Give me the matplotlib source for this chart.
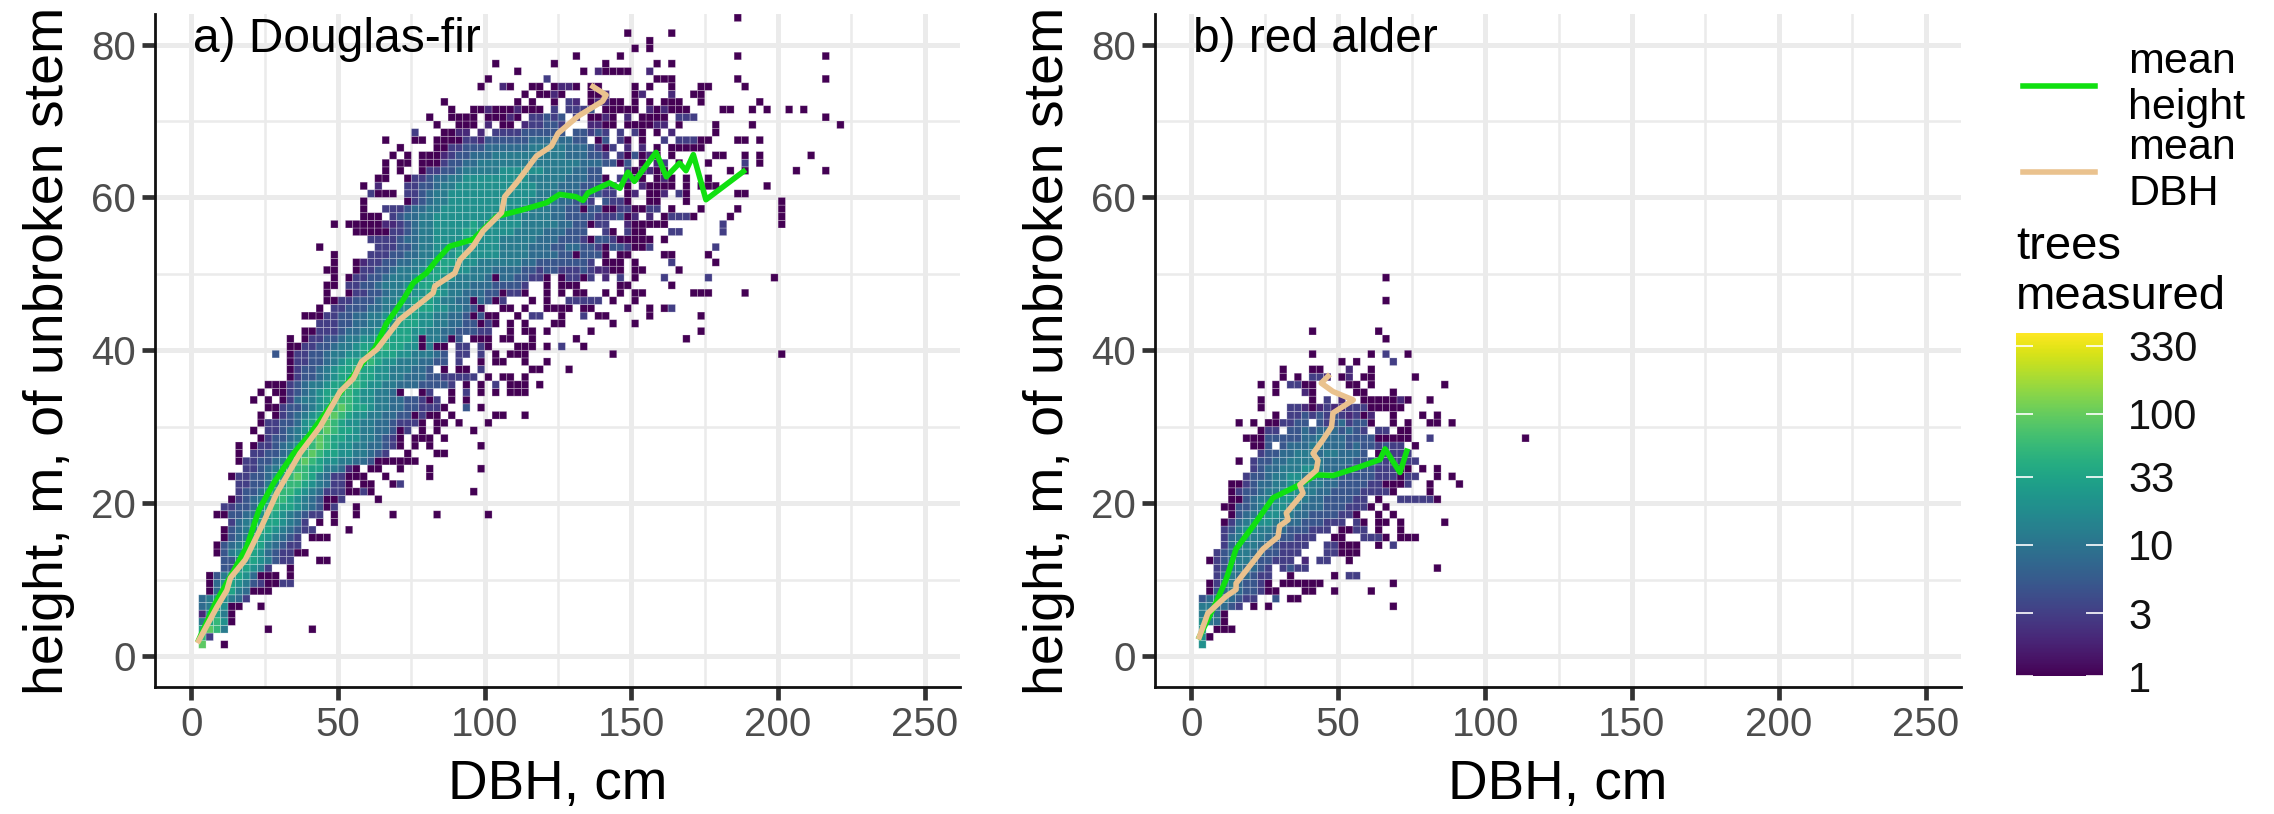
import numpy as np
import matplotlib
matplotlib.use("Agg")
import matplotlib.pyplot as plt
from matplotlib.colors import LogNorm
from matplotlib.lines import Line2D
from matplotlib.ticker import MultipleLocator

plt.rcParams["font.family"] = ["Liberation Sans", "DejaVu Sans"]

# hexbin-like counts as (height row, DBH column, levels)
# one column is 2.5 cm, one row is 1 m, a blank in the string is an empty cell
level_counts = {"1": 1, "2": 2, "3": 3, "4": 5, "5": 8, "6": 12, "7": 20,
                "8": 33, "9": 55, "a": 90, "b": 150}

fir_cells = [
    (83, 74, "1"), (81, 59, "1"), (81, 65, "1"), (80, 62, "1"), (79, 60, "1"), (79, 62, "1"),
    (78, 52, "1"), (78, 58, "1"), (78, 74, "1"), (78, 86, "1"),
    (77, 41, "1"), (77, 49, "1"), (77, 56, "1"), (77, 63, "1"), (77, 65, "1"),
    (76, 44, "1"), (76, 53, "1"), (76, 55, "21111"), (76, 62, "2"),
    (75, 40, "1"), (75, 48, "3"), (75, 63, "111"), (75, 74, "1"), (75, 86, "1"),
    (74, 39, "1"), (74, 42, "21"), (74, 46, "11"), (74, 49, "1221"), (74, 54, "11"), (74, 60, "1"),
    (74, 62, "1"), (74, 65, "1"), (74, 69, "11"), (74, 75, "1"),
    (73, 45, "1"), (73, 47, "1121"), (73, 54, "112"), (73, 60, "12"), (73, 65, "2"), (73, 68, "11"),
    (72, 34, "1"), (72, 44, "1"), (72, 46, "1"), (72, 49, "1"), (72, 51, "32"), (72, 54, "12211"),
    (72, 60, "1"), (72, 62, "1"), (72, 64, "111"), (72, 69, "1"), (72, 77, "1"),
    (71, 35, "1"), (71, 38, "112111"), (71, 44, "2111"), (71, 49, "3"), (71, 51, "3334"), (71, 56, "1111"),
    (71, 60, "1"), (71, 62, "21"), (71, 64, "2111"), (71, 72, "11"), (71, 76, "1"), (71, 78, "1"),
    (71, 81, "1"), (71, 83, "1"),
    (70, 32, "1"), (70, 35, "1"), (70, 36, "111"), (70, 40, "11121"), (70, 46, "33434"), (70, 52, "3"),
    (70, 54, "1121"), (70, 59, "2 1"), (70, 62, "11"), (70, 64, "1 1"), (70, 66, "333"), (70, 86, "1"),
    (69, 33, "1"), (69, 36, "11"), (69, 38, "1"), (69, 40, "2 1"), (69, 43, "1"), (69, 45, "233443"),
    (69, 54, "2211 1"), (69, 60, "11"), (69, 62, "1"), (69, 63, "22"), (69, 66, "1"), (69, 71, "1"),
    (69, 76, "1"), (69, 88, "1"),
    (68, 30, "3"), (68, 34, "1122"), (68, 39, "2"), (68, 41, "33334"), (68, 46, "444"), (68, 49, "44"),
    (68, 52, "44"), (68, 54, "343 3"), (68, 60, "31"), (68, 63, "1 2"), (68, 71, "1"),
    (67, 26, "1"), (67, 30, "11"), (67, 33, "1111332"), (67, 40, "444444"), (67, 46, "555"), (67, 49, "555"),
    (67, 52, "44"), (67, 55, "1"), (67, 56, "4 3"), (67, 59, "1"), (67, 61, "1"), (67, 64, "3"),
    (67, 66, "33311"), (67, 74, "11"), (67, 77, "1"),
    (66, 28, "1"), (66, 33, "113344"), (66, 39, "4555555"), (66, 46, "66666"), (66, 51, "5554"), (66, 55, "3"),
    (66, 56, "1"), (66, 57, "3"), (66, 59, "2"), (66, 61, "2"), (66, 63, "1"), (66, 65, "11111"),
    (65, 27, "1"), (65, 29, "1"), (65, 31, "111"), (65, 34, "234455566666666"), (65, 49, "6655544"),
    (65, 56, "3 31"), (65, 60, "41"), (65, 62, "21"), (65, 65, "1"), (65, 71, "11"), (65, 75, "1"),
    (65, 77, "1"), (65, 84, "1"),
    (64, 26, "1"), (64, 28, "11"), (64, 31, "111"), (64, 34, "3445566666666666"), (64, 50, "66655544"),
    (64, 58, "1"), (64, 59, "4 1 2"), (64, 64, "3 1"), (64, 70, "1"), (64, 75, "3"), (64, 77, "1"),
    (63, 26, "1"), (63, 28, "1"), (63, 31, "1"), (63, 32, "334456666677777"), (63, 47, "7666655"),
    (63, 54, "44"), (63, 59, "31"), (63, 61, "22"), (63, 63, "11"), (63, 73, "1"), (63, 75, "1"),
    (63, 82, "1"), (63, 86, "1"),
    (62, 25, "11"), (62, 29, "1"), (62, 30, "3345566777777"), (62, 43, "77766666"), (62, 51, "55544"),
    (62, 56, "1"), (62, 58, "33"), (62, 60, "2"), (62, 61, "1 1"), (62, 64, "21"), (62, 67, "1"), (62, 70, "1"),
    (61, 23, "1"), (61, 25, "2"), (61, 29, "33"), (61, 31, "4456677777777"), (61, 44, "7776665554"),
    (61, 54, "44"), (61, 56, "33"), (61, 59, "1"), (61, 61, "21"), (61, 63, "111"), (61, 67, "1"),
    (61, 69, "111"), (61, 78, "1"),
    (60, 24, "311"), (60, 27, "1"), (60, 29, "3345667777777"), (60, 42, "7777766665544"), (60, 55, "4"),
    (60, 56, "33 1"), (60, 60, "2"), (60, 62, "1"), (60, 63, "12"), (60, 66, "3"), (60, 67, "1"), (60, 74, "11"),
    (59, 23, "1"), (59, 29, "1"), (59, 30, "34566777777"), (59, 41, "77777666655"), (59, 52, "44"), (59, 54, "3"),
    (59, 56, "4"), (59, 57, "33"), (59, 59, "1"), (59, 62, "11"), (59, 67, "1"), (59, 80, "1"),
    (58, 23, "1"), (58, 26, "3"), (58, 27, "334556677777"), (58, 39, "7777776666554"), (58, 52, "4"), (58, 53, "1"),
    (58, 54, "44"), (58, 56, "11"), (58, 58, "33"), (58, 60, "11"), (58, 62, "33"), (58, 65, "1"), (58, 69, "1"),
    (58, 74, "1"), (58, 80, "1"),
    (57, 23, "111"), (57, 27, "34556677777"), (57, 38, "7777777666655"), (57, 51, "444"), (57, 54, "43"),
    (57, 56, "334"), (57, 59, "12"), (57, 62, "2"), (57, 64, "13331"), (57, 73, "1"), (57, 80, "1"),
    (56, 19, "1"), (56, 21, "111"), (56, 24, "1122"), (56, 28, "3456677777"), (56, 38, "87777776666"),
    (56, 49, "65544"), (56, 54, "1"), (56, 55, "33"), (56, 59, "211111"), (56, 72, "3"), (56, 80, "1"),
    (55, 22, "11111"), (55, 27, "33"), (55, 29, "4566777788"), (55, 39, "87777666"), (55, 47, "65554"),
    (55, 52, "44"), (55, 56, "3"), (55, 57, "1"), (55, 59, "3"), (55, 60, "11"), (55, 65, "33"), (55, 72, "3"),
    (54, 24, "3333"), (54, 28, "4556677778"), (54, 38, "87776666"), (54, 46, "65554"), (54, 51, "44"),
    (54, 53, "3"), (54, 54, "1"), (54, 55, "44"), (54, 57, "3"), (54, 58, "111"), (54, 61, "11"), (54, 64, "1"),
    (53, 17, "1"), (53, 25, "333"), (53, 28, "44566777"), (53, 36, "877777666"), (53, 45, "6555"), (53, 49, "44"),
    (53, 51, "55"), (53, 53, "44"), (53, 55, "3"), (53, 56, "1"), (53, 57, "44"), (53, 59, "3"), (53, 60, "113"),
    (53, 71, "3"),
    (52, 19, "1"), (52, 24, "333"), (52, 27, "4455667"), (52, 34, "77887777"), (52, 42, "6666"), (52, 46, "5555"),
    (52, 50, "44"), (52, 52, "1"), (52, 53, "444"), (52, 56, "1"), (52, 58, "11"), (52, 64, "11"), (52, 70, "1"),
    (51, 19, "1"), (51, 22, "1233"), (51, 26, "445566"), (51, 32, "77887776"), (51, 40, "66666"), (51, 45, "5544"),
    (51, 49, "444"), (51, 52, "44"), (51, 54, "3"), (51, 56, "11"), (51, 58, "1"), (51, 60, "1"), (51, 65, "3"),
    (51, 71, "1"),
    (50, 18, "11"), (50, 22, "13"), (50, 24, "34456"), (50, 29, "6677887"), (50, 36, "77666"), (50, 41, "5555"),
    (50, 45, "44"), (50, 47, "3443"), (50, 51, "33"), (50, 53, "43"), (50, 55, "22"), (50, 57, "11"), (50, 60, "11"),
    (50, 66, "1"),
    (49, 19, "1"), (49, 21, "13"), (49, 23, "344566"), (49, 29, "6778877"), (49, 36, "66665"), (49, 41, "1"),
    (49, 42, "55"), (49, 44, "44"), (49, 46, "33"), (49, 48, "1"), (49, 50, "1"), (49, 51, "33"), (49, 53, "1"),
    (49, 54, "3 2"), (49, 58, "3"), (49, 60, "1"), (49, 64, "3"), (49, 70, "3"), (49, 79, "1"),
    (48, 18, "11"), (48, 21, "33"), (48, 23, "44566"), (48, 28, "6778877"), (48, 35, "66655"), (48, 40, "544"),
    (48, 43, "44"), (48, 45, "3"), (48, 48, "1"), (48, 50, "111"), (48, 52, "1"), (48, 58, "11"), (48, 65, "1"),
    (47, 18, "1"), (47, 21, "133"), (47, 24, "44566"), (47, 29, "67788"), (47, 34, "7665"), (47, 38, "554"),
    (47, 41, "4"), (47, 42, "1"), (47, 43, "33"), (47, 45, "1"), (47, 48, "1"), (47, 50, "1"), (47, 52, "11"),
    (47, 56, "1"), (47, 58, "1"), (47, 60, "11"), (47, 68, "111"), (47, 75, "1"),
    (46, 18, "11"), (46, 20, "334"), (46, 23, "4456"), (46, 27, "67788"), (46, 32, "8766"), (46, 36, "55"),
    (46, 38, "1"), (46, 39, "54"), (46, 41, "1"), (46, 42, "3"), (46, 46, "1"), (46, 48, "1"), (46, 51, "33"),
    (46, 53, "3"), (46, 54, "33"), (46, 57, "1"), (46, 60, "1"),
    (45, 17, "1"), (45, 19, "3344"), (45, 23, "4556"), (45, 27, "6778"), (45, 31, "8877"), (45, 35, "665"),
    (45, 38, "4"), (45, 39, "1"), (45, 42, "11"), (45, 45, "1"), (45, 48, "111"), (45, 51, "1"), (45, 53, "11"),
    (45, 59, "1"), (45, 62, "1"), (45, 64, "13"),
    (44, 15, "111"), (44, 18, "334"), (44, 21, "4556"), (44, 25, "6778"), (44, 29, "8877"), (44, 33, "665"),
    (44, 36, "54"), (44, 38, "1"), (44, 39, "4"), (44, 40, "11"), (44, 44, "1"), (44, 46, "33"), (44, 50, "1"),
    (44, 53, "3"), (44, 55, "11"), (44, 62, "1"), (44, 69, "1"),
    (43, 17, "3"), (43, 18, "3344"), (43, 22, "5566"), (43, 26, "7788"), (43, 30, "8776"), (43, 34, "65"),
    (43, 36, "544"), (43, 39, "1"), (43, 40, "3"), (43, 41, "1"), (43, 43, "1"), (43, 45, "1"), (43, 49, "11"),
    (43, 57, "1"), (43, 60, "1"),
    (42, 15, "11"), (42, 17, "333"), (42, 20, "4556"), (42, 24, "6788"), (42, 28, "8877"), (42, 32, "665"),
    (42, 35, "54"), (42, 37, "44"), (42, 39, "33"), (42, 43, "1"), (42, 45, "11"), (42, 48, "1"), (42, 54, "1"),
    (42, 69, "1"),
    (41, 13, "1"), (41, 15, "1"), (41, 16, "3344"), (41, 20, "5667"), (41, 24, "7888"), (41, 28, "887"),
    (41, 31, "1"), (41, 32, "66"), (41, 34, "5"), (41, 35, "1"), (41, 36, "4"), (41, 38, "111"), (41, 42, "11"),
    (41, 46, "1"), (41, 52, "1"), (41, 67, "1"),
    (40, 13, "11"), (40, 15, "33"), (40, 17, "445"), (40, 20, "6678"), (40, 24, "8898"), (40, 28, "877"),
    (40, 31, "1"), (40, 32, "6"), (40, 33, "11"), (40, 36, "33"), (40, 39, "3"), (40, 40, "1"), (40, 44, "111"),
    (40, 48, "1"), (40, 50, "3"), (40, 53, "1"),
    (39, 11, "4"), (39, 13, "1"), (39, 14, "3344"), (39, 18, "5667"), (39, 22, "7888"), (39, 26, "8877"),
    (39, 30, "666"), (39, 33, "54"), (39, 36, "33"), (39, 39, "3"), (39, 41, "1"), (39, 43, "111"), (39, 57, "1"),
    (39, 80, "1"),
    (38, 13, "1"), (38, 14, "3344"), (38, 18, "5678"), (38, 22, "8898"), (38, 26, "7766"), (38, 30, "65"),
    (38, 32, "5"), (38, 33, "44"), (38, 36, "3"), (38, 39, "1"), (38, 41, "11"), (38, 45, "1"), (38, 48, "1"),
    (37, 13, "1"), (37, 14, "3445"), (37, 18, "6788"), (37, 22, "9887"), (37, 26, "7666"), (37, 30, "55"),
    (37, 32, "4"), (37, 34, "1"), (37, 36, "11"), (37, 39, "3"), (37, 46, "11"), (37, 51, "1"),
    (36, 13, "1"), (36, 14, "3445"), (36, 18, "6788"), (36, 22, "9887"), (36, 26, "7665"), (36, 30, "55"),
    (36, 32, "44"), (36, 34, "33"), (36, 36, "33"), (36, 38, "3"), (36, 40, "1"), (36, 42, "11"), (36, 45, "1"),
    (35, 10, "111"), (35, 13, "3"), (35, 14, "4566"), (35, 18, "7889"), (35, 22, "9877"), (35, 26, "6655"),
    (35, 30, "544"), (35, 33, "44"), (35, 35, "3"), (35, 37, "1"), (35, 39, "1"), (35, 41, "3"), (35, 43, "11"),
    (35, 45, "1"), (35, 47, "1"),
    (34, 9, "1"), (34, 11, "1"), (34, 12, "13"), (34, 14, "4567"), (34, 18, "8899"), (34, 22, "8776"), (34, 26, "65"),
    (34, 28, "1"), (34, 31, "1"), (34, 32, "3"), (34, 35, "1"), (34, 37, "3"), (34, 39, "1"), (34, 41, "1"),
    (34, 43, "11"), (34, 45, "1"),
    (33, 8, "1"), (33, 10, "1"), (33, 12, "13"), (33, 14, "5667"), (33, 18, "8999"), (33, 22, "8776"), (33, 26, "655"),
    (33, 29, "4"), (33, 30, "4"), (33, 31, "3"), (33, 32, "13"), (33, 35, "1"), (33, 37, "1"),
    (32, 10, "11"), (32, 12, "3445"), (32, 16, "678"), (32, 19, "9a98"), (32, 23, "8766"), (32, 27, "5544"),
    (32, 31, "33"), (32, 33, "3"), (32, 34, "1"), (32, 37, "4"), (32, 39, "1"),
    (31, 9, "1"), (31, 11, "1"), (31, 12, "3456"), (31, 16, "78"), (31, 18, "9a9"), (31, 21, "87"), (31, 23, "76"),
    (31, 25, "65"), (31, 27, "544"), (31, 30, "1"), (31, 31, "31"), (31, 33, "1"), (31, 35, "1"), (31, 41, "11"),
    (31, 45, "1"),
    (30, 9, "1"), (30, 10, "3"), (30, 11, "3445"), (30, 15, "789"), (30, 18, "a98"), (30, 21, "77"), (30, 23, "66"),
    (30, 25, "55"), (30, 27, "4"), (30, 28, "3"), (30, 29, "33"), (30, 31, "1 1"), (30, 34, "1"), (30, 36, "1"),
    (30, 40, "1"),
    (29, 8, "1"), (29, 10, "33"), (29, 12, "456"), (29, 15, "789"), (29, 18, "a98"), (29, 21, "876"), (29, 24, "6554"),
    (29, 28, "1"), (29, 29, "3"), (29, 31, "1"), (29, 33, "1"), (29, 38, "1"),
    (28, 9, "1"), (28, 10, "344"), (28, 13, "567"), (28, 16, "9a9"), (28, 19, "887"), (28, 22, "766"), (28, 25, "54"),
    (28, 27, "3"), (28, 28, "1"), (28, 30, "11"), (28, 32, "1"), (28, 34, "1"),
    (27, 6, "1"), (27, 8, "1"), (27, 9, "33"), (27, 11, "456"), (27, 14, "789"), (27, 17, "a98"), (27, 20, "776"),
    (27, 23, "65"), (27, 25, "54"), (27, 27, "3"), (27, 28, "1"), (27, 30, "1"), (27, 32, "1"), (27, 39, "1"),
    (26, 6, "1"), (26, 8, "3"), (26, 9, "344"), (26, 12, "567"), (26, 15, "9a9"), (26, 18, "887"), (26, 21, "76"),
    (26, 23, "65"), (26, 25, "4"), (26, 26, "3"), (26, 29, "1"), (26, 33, "11"),
    (25, 6, "1"), (25, 7, "33"), (25, 9, "445"), (25, 12, "689"), (25, 15, "a98"), (25, 18, "776"), (25, 21, "65"),
    (25, 23, "54"), (25, 25, "111111"),
    (24, 7, "33"), (24, 9, "456"), (24, 12, "789"), (24, 15, "988"), (24, 18, "66"), (24, 20, "5"), (24, 21, "21"),
    (24, 24, "1"), (24, 25, "1"), (24, 28, "1"), (24, 32, "1"), (24, 39, "1"),
    (23, 5, "1"), (23, 6, "33"), (23, 8, "445"), (23, 11, "789"), (23, 14, "a98"), (23, 17, "65"), (23, 19, "33"),
    (23, 21, "111"), (23, 26, "1"), (23, 32, "1"),
    (22, 6, "3"), (22, 7, "344"), (22, 10, "678"), (22, 13, "998"), (22, 16, "765"), (22, 19, "33"), (22, 21, "1"),
    (22, 23, "11"), (22, 27, "13"),
    (21, 6, "3"), (21, 7, "445"), (21, 10, "789"), (21, 13, "987"), (21, 16, "65"), (21, 18, "33"), (21, 20, "3"),
    (21, 21, "11"), (21, 23, "31"), (21, 38, "1"),
    (20, 5, "1"), (20, 6, "3"), (20, 7, "456"), (20, 10, "899"), (20, 13, "876"), (20, 16, "54"), (20, 18, "1"),
    (20, 19, "13"), (20, 25, "1"),
    (19, 4, "33"), (19, 6, "445"), (19, 9, "789"), (19, 12, "887"), (19, 15, "65"), (19, 17, "4"), (19, 18, "1"),
    (19, 19, "3"), (19, 22, "1"),
    (18, 3, "1"), (18, 4, "1"), (18, 5, "44"), (18, 7, "567"), (18, 10, "887"), (18, 13, "654"), (18, 16, "33"),
    (18, 19, "1"), (18, 22, "1"), (18, 27, "1"), (18, 33, "1"), (18, 40, "1"),
    (17, 5, "3"), (17, 6, "567"), (17, 9, "888"), (17, 12, "765"), (17, 15, "3"), (17, 17, "1"), (17, 19, "1"),
    (16, 4, "1"), (16, 5, "45"), (16, 7, "678"), (16, 10, "876"), (16, 13, "54"), (16, 15, "33"), (16, 21, "1"),
    (15, 4, "1"), (15, 5, "45"), (15, 7, "678"), (15, 10, "765"), (15, 13, "4"), (15, 14, "3"), (15, 16, "111"),
    (14, 3, "1"), (14, 4, "4"), (14, 5, "56"), (14, 7, "788"), (14, 10, "654"), (14, 13, "33"),
    (13, 3, "1"), (13, 4, "4"), (13, 5, "67"), (13, 7, "887"), (13, 10, "54"), (13, 12, "33"), (13, 14, "1"), (13, 15, "1"),
    (12, 4, "44"), (12, 6, "678"), (12, 9, "76"), (12, 11, "43"), (12, 13, "3"), (12, 17, "11"),
    (11, 4, "44"), (11, 6, "78"), (11, 8, "76"), (11, 10, "3"), (11, 13, "1"),
    (10, 2, "1"), (10, 3, "4"), (10, 4, "67"), (10, 6, "87"), (10, 8, "5"), (10, 9, "111"), (10, 13, "1"),
    (9, 2, "1"), (9, 3, "5"), (9, 4, "78"), (9, 6, "76"), (9, 8, "43"), (9, 10, "11"), (9, 12, "33"),
    (8, 2, "1"), (8, 3, "5"), (8, 4, "78"), (8, 6, "65"), (8, 8, "111"),
    (7, 1, "5"), (7, 2, "6"), (7, 3, "77"), (7, 5, "65"), (7, 7, "3"),
    (6, 1, "5"), (6, 2, "67"), (6, 4, "7"), (6, 5, "1"), (6, 6, "1"), (6, 9, "1"),
    (5, 1, "2"), (5, 2, "78"), (5, 4, "6"), (5, 5, "1"),
    (4, 1, "6"), (4, 2, "89"), (4, 4, "7"), (4, 5, "1"),
    (3, 1, "8"), (3, 2, "a9"), (3, 4, "6"), (3, 10, "1"), (3, 16, "1"),
    (2, 1, "9"), (2, 2, "3"),
    (1, 1, "a"), (1, 4, "1"),
]

alder_cells = [
    (49, 26, "1"), (46, 26, "1"), (42, 16, "1"), (42, 25, "1"), (41, 26, "1"),
    (39, 16, "1"), (39, 24, "1"), (39, 26, "3"), (39, 29, "1"), (38, 20, "1"), (38, 22, "1"), (38, 27, "3"),
    (37, 12, "1"), (37, 16, "11"), (37, 21, "2"), (37, 24, "1"),
    (36, 12, "1"), (36, 14, "1"), (36, 16, "332"), (36, 20, "12"), (36, 23, "11"), (36, 30, "1"),
    (35, 9, "1"), (35, 11, "1"), (35, 13, "3311"), (35, 21, "11"), (35, 24, "1"), (35, 34, "1"),
    (34, 11, "1"), (34, 15, "21"), (34, 22, "11"), (34, 27, "1"),
    (33, 9, "1"), (33, 16, "1"), (33, 18, "3"), (33, 20, "2"), (33, 23, "11"), (33, 25, "11121"), (33, 32, "1"),
    (32, 9, "1"), (32, 13, "33212322"), (32, 21, "3331"), (32, 25, "1111"),
    (31, 11, "1"), (31, 13, "3343434"), (31, 20, "32312"), (31, 27, "1"), (31, 31, "1"), (31, 33, "1"),
    (30, 6, "1"), (30, 8, "1"), (30, 10, "113344"), (30, 17, "4"), (30, 18, "345"), (30, 21, "344"), (30, 24, "1"),
    (30, 27, "1"), (30, 29, "1"), (30, 32, "11"), (30, 35, "1"),
    (29, 9, "1"), (29, 10, "33"), (29, 13, "44545"), (29, 18, "55"), (29, 20, "4543"), (29, 25, "33"), (29, 28, "1"),
    (29, 29, "1"),
    (28, 7, "111"), (28, 10, "44"), (28, 12, "444556"), (28, 18, "5"), (28, 19, "5544"), (28, 23, "44"),
    (28, 25, "11111"), (28, 32, "3"), (28, 45, "1"),
    (27, 8, "1"), (27, 9, "1"), (27, 10, "4"), (27, 12, "4"), (27, 13, "55566"), (27, 18, "555"), (27, 21, "4544"),
    (27, 25, "3433"), (27, 30, "1"),
    (26, 9, "3"), (26, 10, "44"), (26, 12, "55666"), (26, 17, "5665"), (26, 21, "554"), (26, 25, "1"), (26, 26, "3"),
    (26, 27, "3"), (26, 28, "33"),
    (25, 6, "1"), (25, 8, "3"), (25, 9, "44"), (25, 11, "5566"), (25, 15, "6665"), (25, 19, "555"), (25, 22, "44"),
    (25, 24, "44"), (25, 26, "33"), (25, 28, "3"), (25, 29, "33"),
    (24, 8, "3"), (24, 9, "4"), (24, 10, "556"), (24, 13, "6677"), (24, 17, "655"), (24, 20, "54"), (24, 22, "444"),
    (24, 25, "33"), (24, 27, "3"), (24, 28, "1"), (24, 29, "1"), (24, 31, "1"), (24, 33, "1"),
    (23, 7, "3"), (23, 8, "44"), (23, 10, "5667"), (23, 14, "7666"), (23, 18, "554"), (23, 21, "44"), (23, 23, "44"),
    (23, 25, "3"), (23, 26, "33"), (23, 28, "1"), (23, 29, "33"), (23, 33, "1"), (23, 35, "1"),
    (22, 5, "11"), (22, 7, "34"), (22, 9, "556"), (22, 12, "6777"), (22, 16, "665"), (22, 19, "54"), (22, 21, "444"),
    (22, 24, "33"), (22, 26, "1"), (22, 27, "11"), (22, 29, "3"), (22, 32, "1"), (22, 36, "1"),
    (21, 5, "13"), (21, 7, "44"), (21, 9, "566"), (21, 12, "7776"), (21, 16, "65"), (21, 18, "544"), (21, 21, "44"),
    (21, 23, "33"), (21, 25, "3"), (21, 26, "31"), (21, 32, "1"),
    (20, 5, "1"), (20, 6, "1"), (20, 7, "45"), (20, 9, "667"), (20, 12, "776"), (20, 15, "655"), (20, 18, "44"),
    (20, 20, "44"), (20, 22, "33"), (20, 25, "1"), (20, 28, "333331"),
    (19, 4, "1"), (19, 5, "1"), (19, 6, "44"), (19, 8, "566"), (19, 11, "776"), (19, 14, "65"), (19, 16, "554"),
    (19, 19, "44"), (19, 21, "33"), (19, 23, "3"), (19, 24, "1"), (19, 26, "1"),
    (18, 5, "1"), (18, 6, "45"), (18, 8, "667"), (18, 11, "76"), (18, 13, "655"), (18, 16, "44"), (18, 18, "44"),
    (18, 20, "33"), (18, 22, "1"), (18, 25, "1"), (18, 27, "1"),
    (17, 4, "1"), (17, 5, "3"), (17, 6, "56"), (17, 8, "77"), (17, 10, "76"), (17, 12, "65"), (17, 14, "54"),
    (17, 16, "44"), (17, 18, "33"), (17, 20, "3"), (17, 22, "3"), (17, 23, "1"), (17, 25, "11"), (17, 28, "1"), (17, 34, "1"),
    (16, 4, "3"), (16, 5, "4"), (16, 6, "67"), (16, 8, "76"), (16, 10, "65"), (16, 12, "54"), (16, 14, "44"),
    (16, 16, "33"), (16, 18, "3"), (16, 20, "11"), (16, 22, "33"), (16, 25, "1"), (16, 28, "1"),
    (15, 4, "3"), (15, 5, "5"), (15, 6, "67"), (15, 8, "66"), (15, 10, "55"), (15, 12, "44"), (15, 14, "33"),
    (15, 16, "3"), (15, 19, "11"), (15, 23, "3"), (15, 24, "33"), (15, 26, "1"), (15, 28, "111"),
    (14, 4, "3"), (14, 5, "5"), (14, 6, "66"), (14, 8, "65"), (14, 10, "54"), (14, 12, "33"), (14, 14, "3"), (14, 15, "3"),
    (14, 18, "3"), (14, 19, "3"), (14, 20, "111"), (14, 25, "1"), (14, 27, "3"),
    (13, 3, "3"), (13, 4, "45"), (13, 6, "66"), (13, 8, "55"), (13, 10, "44"), (13, 12, "33"), (13, 14, "3"),
    (13, 18, "33"), (13, 20, "1"), (13, 21, "11"),
    (12, 2, "1"), (12, 3, "3"), (12, 4, "45"), (12, 6, "66"), (12, 8, "54"), (12, 10, "43"), (12, 12, "33"),
    (12, 15, "2"), (12, 17, "33"), (12, 21, "1"),
    (11, 3, "3"), (11, 4, "4"), (11, 5, "66"), (11, 7, "55"), (11, 9, "43"), (11, 12, "3"), (11, 13, "43"), (11, 15, "3"),
    (11, 33, "1"),
    (10, 3, "3"), (10, 4, "5"), (10, 5, "65"), (10, 7, "54"), (10, 9, "33"), (10, 13, "1"), (10, 19, "1"), (10, 21, "33"),
    (9, 2, "1"), (9, 3, "3"), (9, 4, "56"), (9, 6, "54"), (9, 8, "43"), (9, 10, "1"), (9, 12, "111"), (9, 15, "1"),
    (9, 16, "11"), (9, 27, "1"),
    (8, 2, "1"), (8, 3, "4"), (8, 4, "56"), (8, 6, "54"), (8, 8, "43"), (8, 10, "1"), (8, 11, "1"), (8, 15, "11"),
    (8, 19, "1"), (8, 24, "1"),
    (7, 1, "4"), (7, 2, "5"), (7, 3, "66"), (7, 5, "54"), (7, 7, "3"), (7, 8, "3"), (7, 11, "4"), (7, 13, "11"),
    (6, 1, "6"), (6, 2, "6"), (6, 3, "55"), (6, 5, "4"), (6, 6, "3"), (6, 8, "1"), (6, 10, "1"), (6, 27, "1"),
    (5, 1, "6"), (5, 2, "7"), (5, 3, "5"), (5, 4, "1"),
    (4, 1, "7"), (4, 2, "6"), (4, 3, "5"), (4, 4, "1"),
    (3, 1, "7"), (3, 3, "111"),
    (2, 1, "7"), (2, 2, "1"),
    (1, 1, "7"),
]

# mean lines
fir_height_dbh = [2.5, 8, 13.3, 18.9, 23, 28, 34.8, 40.4, 50.7, 58.7, 62.6, 66.5, 72.2, 75.6, 80.1, 83.6, 88, 96,
                  104, 113, 121, 125.5, 131, 133.5, 135.2, 142.5, 146.1, 148.8, 151, 158.4, 161.9, 166.4, 168.6,
                  171.1, 175.4, 188.2]
fir_height_m = [2.1, 6.8, 10.4, 14.3, 19.1, 22.6, 26.5, 29, 34.4, 38.5, 40.3, 43.5, 46.6, 48.8, 50.1, 51.8, 53.6,
                54.5, 57.5, 58.4, 59.3, 60.4, 60.1, 59.6, 60.6, 61.9, 61.2, 63.3, 62.1, 65.9, 62.7, 64.5, 63.5,
                65.6, 59.7, 63.4]
fir_dbh_cm = [2.5, 8.7, 12.1, 13.3, 18.4, 24, 29.1, 37, 43.9, 50.7, 55.2, 58, 63.2, 71, 82.4, 83, 89.8, 91.5, 96,
              99.4, 105.7, 106.8, 110.8, 117.6, 122.7, 125, 131.7, 140.2, 141.4, 136.9]
fir_dbh_m = [2, 6.4, 8.6, 10.2, 12.6, 17, 21.3, 26.5, 30, 34.6, 36.3, 38.5, 40.1, 44, 47.5, 48.4, 50.1, 51.8, 53.6,
             55.6, 58, 60.1, 61.9, 65.4, 66.7, 68.4, 70.6, 72.6, 73.4, 74.5]

alder_height_dbh = [2.7, 8.4, 11.8, 15.2, 21, 27.8, 35.7, 42.5, 48.2, 56.2, 64.2, 65.9, 71, 73.3]
alder_height_m = [2.5, 7, 10, 14, 17, 20.7, 22.2, 23.7, 23.6, 24.6, 25.7, 27.1, 24, 26.8]
alder_dbh_cm = [2.7, 5.6, 11.8, 15.2, 15.2, 24.4, 29.5, 30, 32.9, 32.3, 38, 36.9, 42.5, 43.1, 41.4, 44.8, 47.7,
                48.2, 55.1, 48.2, 44.2, 46.5]
alder_dbh_m = [2.5, 5.6, 7.8, 8.7, 9.5, 14, 15.6, 17, 17.8, 18.7, 21.3, 22.4, 24.3, 25.6, 26.5, 28.3, 30, 31.8,
               33.5, 34.6, 35.7, 36.6]

cbar_ticks = [1, 3, 10, 33, 100, 330]
x_ticks = [0, 50, 100, 150, 200, 250]
y_ticks = [0, 20, 40, 60, 80]

green = "#10E010"
tan = "#EAC28E"
norm = LogNorm(vmin=1, vmax=412)


def cells_to_matrix(cells):
    counts = np.full((84, 100), np.nan)
    for row, col, levels in cells:
        for i, ch in enumerate(levels):
            if ch != " ":
                counts[row, col + i] = level_counts[ch]
    return np.ma.masked_invalid(counts)


def draw_panel(ax, cells, height_x, height_y, dbh_x, dbh_y, title):
    x_edges = np.arange(101) * 2.5
    y_edges = np.arange(85) * 1.0
    mesh = ax.pcolor(x_edges, y_edges, cells_to_matrix(cells), cmap="viridis", norm=norm,
                     edgecolors=(1, 1, 1, 0.35), linewidth=0.5, zorder=2)
    ax.plot(height_x, height_y, color=green, lw=4, zorder=3, solid_joinstyle="round")
    ax.plot(dbh_x, dbh_y, color=tan, lw=4, zorder=4, solid_joinstyle="round")
    ax.set_xlim(-12.4, 262)
    ax.set_ylim(-4.06, 84)
    ax.set_xticks(x_ticks)
    ax.set_yticks(y_ticks)
    ax.xaxis.set_minor_locator(MultipleLocator(25))
    ax.yaxis.set_minor_locator(MultipleLocator(10))
    ax.set_axisbelow(True)
    ax.grid(which="major", color="#EBEBEB", lw=3.6)
    ax.grid(which="minor", color="#EBEBEB", lw=1.8)
    ax.tick_params(which="major", length=9.5, width=3.4, color="#333333", labelcolor="#4D4D4D",
                   labelsize=29, pad=4)
    ax.tick_params(which="minor", length=0)
    for side in ["top", "right"]:
        ax.spines[side].set_visible(False)
    for side in ["left", "bottom"]:
        ax.spines[side].set_linewidth(2)
        ax.spines[side].set_color("#111111")
    ax.set_xlabel("DBH, cm", fontsize=39.5, labelpad=11)
    ax.set_ylabel("height, m, of unbroken stem", fontsize=40, labelpad=12)
    ax.text(0.5, 79, title, fontsize=34.5, va="baseline", ha="left", zorder=5)
    return mesh


fig = plt.figure(figsize=(22.74, 8.14), dpi=100)
W, H = 2274.0, 814.0
ax_a = fig.add_axes([155 / W, 1 - 687 / H, 805 / W, 673 / H])
ax_b = fig.add_axes([1155 / W, 1 - 687 / H, 806 / W, 673 / H])

mesh = draw_panel(ax_a, fir_cells, fir_height_dbh, fir_height_m, fir_dbh_cm, fir_dbh_m, "a) Douglas-fir")
draw_panel(ax_b, alder_cells, alder_height_dbh, alder_height_m, alder_dbh_cm, alder_dbh_m, "b) red alder")

# legend for the two lines
handles = [Line2D([], [], color=green, lw=4), Line2D([], [], color=tan, lw=4)]
fig.legend(handles, ["mean\nheight", "mean\nDBH"], loc="upper left", bbox_to_anchor=(2023 / W, 1 - 42 / H),
           frameon=False, fontsize=31, handlelength=1.67, handletextpad=0.77, labelspacing=0.0, borderpad=0,
           borderaxespad=0)

# colour bar
cax = fig.add_axes([2016 / W, 1 - 676 / H, 87 / W, 343 / H])
cbar = fig.colorbar(mesh, cax=cax)
cbar.set_ticks(cbar_ticks)
cbar.set_ticklabels([str(t) for t in cbar_ticks])
cbar.minorticks_off()
cbar.outline.set_visible(False)
cax.tick_params(which="major", length=0, labelsize=30, labelcolor="#111111", pad=18)
cax.hlines(cbar_ticks, 0, 0.2, color="white", lw=1.2)
cax.hlines(cbar_ticks, 0.8, 1, color="white", lw=1.2)
cax.set_title("trees\nmeasured", fontsize=34, loc="left", pad=17, linespacing=1.2)

fig.savefig("out.png", dpi=100)
